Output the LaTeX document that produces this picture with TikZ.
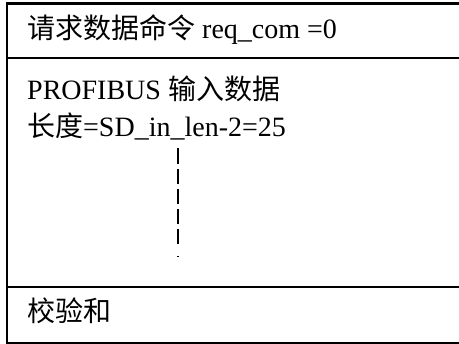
\documentclass[tikz,border=0pt]{standalone}
\usepackage{fontspec}
\setmainfont{Liberation Serif}
\newfontfamily\cjk{Noto Sans CJK SC}

\begin{document}
\begin{tikzpicture}[x=1pt, y=1pt,
    rahmen/.style={line width=2.2pt},
    zeile/.style={anchor=base west, inner sep=0pt, font=\fontsize{28}{33}\selectfont},
    strich/.style={line width=1.5pt,
        dash pattern=on 16pt off 5pt on 15pt off 5pt on 15pt off 5pt on 15pt off 5pt on 15pt off 12pt on 1.5pt off 20pt}]
    \useasboundingbox (0,0) rectangle (459,344);
    \clip (0,0) rectangle (459,344);
    \fill[white] (0,0) rectangle (459,344);
    % Rahmen
    \draw[rahmen] (470,340.5) -- (7,340.5) -- (7,0.5) -- (470,0.5);
    \draw[rahmen] (7,286) -- (470,286);
    \draw[rahmen] (7,57) -- (470,57);
    % Texte
    \node[zeile] (befehl) at (27,305) {{\cjk 请求数据命令} req\_com =0};
    \node[zeile] (daten) at (27,244) {PROFIBUS {\cjk 输入数据}};
    \node[zeile] (laenge) at (27,207) {{\cjk 长度}=SD\_in\_len-2=25};
    \node[zeile] (summe) at (27,22) {\cjk 校验和};
    % Strichlinie
    \coordinate (oben) at (178,196);
    \coordinate (unten) at (178,86);
    \draw[strich] (oben) -- (unten);
\end{tikzpicture}
\end{document}
